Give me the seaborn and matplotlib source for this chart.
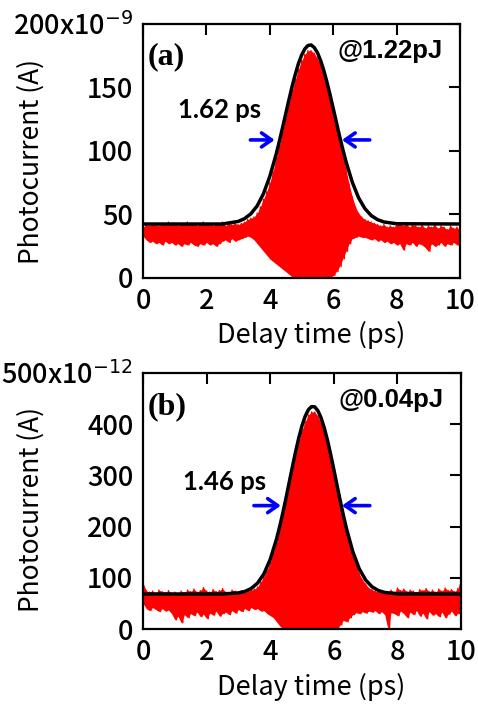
import numpy as np
import pandas as pd
import matplotlib
matplotlib.use("Agg")
import matplotlib.pyplot as plt
import seaborn as sns

# ---------------- data ----------------
delay_grid = np.round(np.arange(0, 10.001, 0.1), 2)   # ps, sampling grid of red trace envelopes

# panel (a) @1.22pJ, photocurrent in units of 1e-9 A
red_upper_a = [40, 42, 41, 43, 42, 41, 43, 42, 44, 42, 43, 41, 43, 42, 44, 42, 43, 41, 43, 44,
               42, 43, 41, 43, 42, 44, 41, 43, 42, 43, 42, 43, 44, 46, 47, 48, 51, 56, 62, 68,
               75, 84, 94, 104, 115, 126, 137, 147, 156, 164, 171, 176, 179, 179, 177, 173, 168, 160, 151, 141,
               130, 119, 108, 97, 86, 74, 64, 56, 51, 48, 46, 45, 44, 43, 42, 41, 42, 40, 41, 40,
               42, 43, 41, 43, 40, 42, 41, 40, 42, 39, 41, 40, 42, 39, 41, 40, 38, 41, 39, 40, 38]
red_lower_a = [33, 30, 28, 29, 27, 28, 26, 29, 27, 28, 26, 27, 25, 27, 26, 28, 26, 25, 27, 26,
               28, 26, 27, 25, 27, 29, 30, 28, 31, 29, 30, 31, 32, 33, 32, 30, 27, 24, 21, 18,
               15, 13, 11, 9, 7, 5, 3, 1, 0, 0, 0, 0, 0, 0, 0, 0, 0, 0, 0, 0,
               2, 5, 9, 15, 21, 27, 31, 32, 33, 32, 32, 31, 30, 31, 29, 30, 28, 29, 27, 28,
               26, 27, 22, 27, 26, 28, 25, 27, 26, 24, 21, 27, 25, 26, 28, 25, 27, 26, 28, 26, 27]
fit_x_a = [0.0, 2.5, 3.0, 3.2, 3.4, 3.6, 3.8, 4.0, 4.2, 4.3, 4.4, 4.5, 4.6, 4.7, 4.8, 4.9, 5.0, 5.1,
           5.2, 5.3, 5.4, 5.5, 5.6, 5.7, 5.8, 5.9, 6.0, 6.1, 6.2, 6.3, 6.4, 6.6, 6.8, 7.0, 7.2, 7.4,
           7.6, 8.0, 10.0]
fit_y_a = [42.5, 42.5, 44.5, 46.7, 50.5, 56.7, 66.4, 80.0, 97.5, 107.6, 118.2, 129.1, 140.0, 150.5,
           160.0, 168.6, 175.3, 180.2, 183.0, 183.5, 181.5, 177.5, 171.4, 163.6, 154.4, 144.3, 133.5,
           122.6, 111.7, 101.5, 91.9, 75.5, 63.1, 54.6, 49.1, 45.9, 44.1, 42.7, 42.5]
yticks_a = [0, 50, 100, 150, 200]
yticklabels_a = ["0", "50", "100", "150", "200x10$^{-9}$"]

# panel (b) @0.04pJ, photocurrent in units of 1e-12 A
red_upper_b = [90, 75, 72, 74, 70, 76, 73, 71, 75, 70, 72, 68, 74, 71, 76, 73, 78, 72, 75, 81,
               74, 72, 77, 73, 75, 79, 72, 70, 76, 74, 72, 75, 71, 74, 76, 78, 82, 92, 103, 115,
               130, 150, 170, 195, 222, 250, 280, 310, 340, 366, 388, 405, 418, 424, 424, 416, 403, 384, 360, 333,
               303, 273, 243, 214, 188, 163, 142, 124, 108, 96, 88, 80, 77, 74, 72, 75, 70, 73, 76, 72,
               80, 75, 78, 73, 76, 74, 71, 77, 75, 79, 73, 76, 72, 78, 74, 80, 75, 77, 73, 79, 100]
red_lower_b = [50, 40, 36, 42, 38, 34, 40, 35, 37, 30, 18, 25, 12, 28, 22, 30, 26, 33, 24, 29,
               20, 31, 27, 35, 25, 30, 33, 28, 36, 31, 38, 34, 40, 36, 42, 38, 40, 35, 36, 30,
               26, 22, 14, 6, 0, 0, 0, 0, 0, 0, 0, 0, 0, 0, 0, 0, 0, 0, 0, 0,
               0, 0, 8, 17, 14, 22, 28, 32, 30, 34, 31, 35, 33, 36, 30, 34, 28, 0, 32, 30,
               26, 35, 30, 22, 33, 28, 36, 25, 31, 20, 34, 27, 30, 24, 33, 22, 29, 35, 26, 30, 38]
fit_x_b = [0.0, 2.5, 3.0, 3.2, 3.4, 3.6, 3.8, 4.0, 4.2, 4.3, 4.4, 4.5, 4.6, 4.7, 4.8, 4.9, 5.0, 5.1,
           5.2, 5.3, 5.4, 5.5, 5.6, 5.7, 5.8, 5.9, 6.0, 6.1, 6.2, 6.3, 6.4, 6.6, 6.8, 7.0, 7.2, 7.4,
           7.6, 8.0, 10.0]
fit_y_b = [68.4, 68.4, 70.5, 73.3, 79.0, 89.5, 107.6, 135.9, 176.2, 200.7, 227.8, 256.9, 287.3, 317.7,
           347.0, 373.8, 397.2, 415.6, 428.4, 434.4, 433.9, 426.3, 412.3, 392.8, 368.7, 341.1, 311.5,
           281.1, 251.0, 222.2, 195.6, 150.5, 117.5, 95.7, 82.5, 75.1, 71.4, 68.6, 68.4]
yticks_b = [0, 100, 200, 300, 400, 500]
yticklabels_b = ["0", "100", "200", "300", "400", "500x10$^{-12}$"]

xticks = [0, 2, 4, 6, 8, 10]

panel_tags = ["(a)", "(b)"]
energy_labels = ["@1.22pJ", "@0.04pJ"]
fwhm_labels = ["1.62 ps", "1.46 ps"]
fwhm_text_pos = [(1.10, 132), (1.26, 287)]
arrow_level = [108.7, 241]
arrow_left = [(3.30, 4.24), (3.40, 4.42)]
arrow_right = [(7.24, 6.19), (7.22, 6.17)]

# ---------------- style ----------------
sns.set_theme(style="white")
plt.rcParams['font.family'] = ['Noto Sans CJK JP', 'DejaVu Sans']
plt.rcParams['font.weight'] = 'medium'
plt.rcParams['mathtext.fontset'] = 'dejavusans'
plt.rcParams['axes.unicode_minus'] = True

fig = plt.figure(figsize=(4.78, 7.05), dpi=100)
ax_a = fig.add_axes([0.2992, 0.6057, 0.6632, 0.3603])
ax_b = fig.add_axes([0.2992, 0.1078, 0.6653, 0.3631])

panels = [
    (ax_a, red_upper_a, red_lower_a, fit_x_a, fit_y_a, (0, 200), yticks_a, yticklabels_a, 0.457),
    (ax_b, red_upper_b, red_lower_b, fit_x_b, fit_y_b, (0, 500), yticks_b, yticklabels_b, 0.465),
]

for i, (ax, up, lo, fx, fy, ylim, yt, ytl, ylab_y) in enumerate(panels):
    # solid body of the fringe pattern between its envelopes
    ax.fill_between(delay_grid, lo, up, color="#ff0000", lw=0)
    # fringe texture: trace alternating between upper and lower envelope samples
    zig_x = np.column_stack([delay_grid, delay_grid + 0.05]).ravel()
    zig_y = np.column_stack([up, lo]).ravel()
    df_red = pd.DataFrame({"t": zig_x, "I": zig_y})
    sns.lineplot(data=df_red, x="t", y="I", sort=False, estimator=None,
                 color="#ff0000", lw=1.0, ax=ax)
    df_fit = pd.DataFrame({"t": fx, "I": fy})
    sns.lineplot(data=df_fit, x="t", y="I", sort=False, estimator=None,
                 color="black", lw=2.5, ax=ax)

    ax.set_xlim(0, 10)
    ax.set_ylim(*ylim)
    ax.set_xticks(xticks)
    ax.set_xticklabels([str(v) for v in xticks])
    ax.set_yticks(yt)
    ax.set_yticklabels(ytl)
    ax.tick_params(direction="in", length=8, width=1.5, top=True, right=True,
                   labeltop=False, labelright=False, labelsize=19.5, pad=7,
                   colors="black")
    for s in ax.spines.values():
        s.set_linewidth(1.6)
        s.set_color("black")
    ax.set_xlabel("Delay time (ps)", fontsize=19.5, color="black")
    ax.set_ylabel("Photocurrent (A)", fontsize=19, color="black")
    ax.yaxis.set_label_coords(-0.31, ylab_y)
    ax.xaxis.set_label_coords(0.53, -0.17)

    ax.text(0.016, 0.87, panel_tags[i], transform=ax.transAxes, ha="left", va="center",
            fontsize=23, fontweight="bold", family=["Liberation Serif"], color="black")
    ax.text(0.946, 0.893, energy_labels[i], transform=ax.transAxes, ha="right", va="center",
            fontsize=18.5, fontweight="bold", family=["Liberation Sans"], color="black")
    tx, ty = fwhm_text_pos[i]
    ax.text(tx, ty, fwhm_labels[i], ha="left", va="center", fontsize=18.5,
            fontweight="bold", family=["Lato"], color="black")
    for (x0, x1) in (arrow_left[i], arrow_right[i]):
        ax.annotate("", xy=(x1, arrow_level[i]), xytext=(x0, arrow_level[i]),
                    arrowprops=dict(arrowstyle="->,head_length=0.6,head_width=0.42",
                                    color="#0000ff", lw=2.6))

fig.savefig("out.png", dpi=100)
